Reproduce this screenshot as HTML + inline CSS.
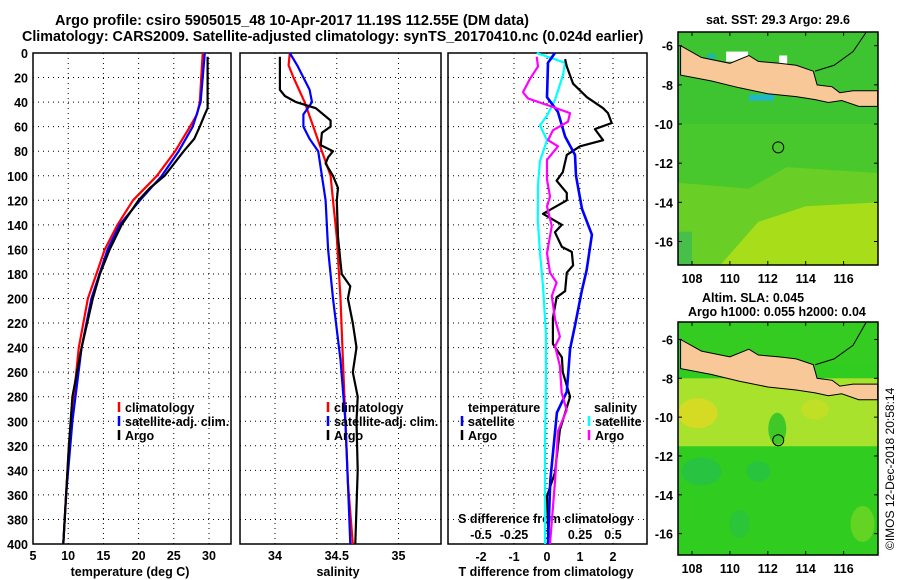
<!DOCTYPE html>
<html><head><meta charset="utf-8">
<style>
body{margin:0;background:#fff;}
svg{display:block;font-family:"Liberation Sans",Arial,sans-serif;font-weight:bold;}
</style></head>
<body>
<svg id="chart" width="900" height="580" viewBox="0 0 900 580" xmlns="http://www.w3.org/2000/svg">
<text x="55" y="25" font-size="14.5">Argo profile: csiro 5905015_48 10-Apr-2017 11.19S 112.55E (DM data)</text>
<text x="22" y="41" font-size="14.3">Climatology: CARS2009. Satellite-adjusted climatology: synTS_20170410.nc (0.024d earlier)</text>
<g id="p1"></g>
<g id="p2"></g>
<g id="p3"></g>
<g id="m1"></g>
<g id="m2"></g>
<text x="778" y="24" font-size="12.5" text-anchor="middle">sat. SST: 29.3 Argo: 29.6</text>
<text x="702" y="302" font-size="12.5">Altim. SLA: 0.045</text>
<text x="688" y="316" font-size="12.5">Argo h1000: 0.055 h2000: 0.04</text>
<text font-size="12" font-weight="normal" transform="translate(894,550) rotate(-90)">©IMOS 12-Dec-2018 20:58:14</text>
</svg>
<script>
// ---- data ----
const depthTicks=[0,20,40,60,80,100,120,140,160,180,200,220,240,260,280,300,320,340,360,380,400];
const tTicks=[5,10,15,20,25,30];
const sTicks=[34,34.5,35];
const dTTicks=[-2,-1,0,1,2];
const dSTicks=[-0.5,-0.25,0,0.25,0.5];
const dSTickLabels=['-0.5','-0.25','0','0.25','0.5'];
// temperature
const climTDepth=[0,40,50,60,80,100,120,140,160,180,200,240,280,320,360,400];
const climT=[29.1,28.7,28.3,27.3,25.2,22.6,19.2,17.0,15.2,14.0,12.8,11.5,10.8,10.1,9.7,9.3];
const satTDepth=[0,40,60,80,100,120,140,160,200,240,300,360,400];
const satT=[29.4,28.8,27.7,25.7,23.3,20.2,17.3,15.6,13.3,11.9,10.6,9.7,9.3];
const argoTDepth=[3,45,50,60,70,80,100,110,120,140,160,180,200,240,280,320,400];
const argoT=[29.8,29.8,29.4,28.7,27.9,26.4,23.7,21.6,20.0,17.6,15.9,14.5,13.5,11.9,10.6,10.1,9.3];
// salinity
const climSDepth=[0,10,20,40,60,80,100,120,150,200,250,300,350,400];
const climS=[34.12,34.11,34.15,34.24,34.31,34.38,34.45,34.47,34.50,34.53,34.55,34.57,34.59,34.63];
const satSDepth=[0,10,30,40,50,60,70,80,100,120,160,200,250,300,350,400];
const satS=[34.12,34.18,34.28,34.30,34.23,34.23,34.28,34.35,34.38,34.41,34.43,34.47,34.53,34.57,34.59,34.61];
const argoSDepth=[3,30,35,40,45,55,60,65,75,80,85,90,100,110,120,150,180,190,200,220,240,260,280,300,340,400];
const argoS=[34.04,34.04,34.08,34.17,34.33,34.45,34.45,34.38,34.37,34.47,34.43,34.41,34.47,34.51,34.50,34.51,34.54,34.61,34.59,34.63,34.66,34.63,34.67,34.66,34.67,34.65];
// differences
const dTsatDepth=[0,8,36,48,68,83,100,127,148,177,193,222,241,276,293,348,400];
const dTsat=[0.24,0.03,0,0.33,0.55,0.85,0.88,1.06,1.36,1.2,1.06,0.85,0.7,0.6,0.3,0.1,0.03];
const dTargoDepth=[5,11,25,36,45,49,57,62,71,76,83,97,104,114,120,131,140,146,158,162,173,179,194,199,216,237,248,260,280,307,342,361,400];
const dTargo=[0.55,0.6,0.79,1.21,1.7,1.85,1.96,1.45,1.7,1.0,0.6,0.48,0.29,0.6,0.6,-0.12,0.45,0.24,0.45,0.75,0.79,0.6,0.55,0.29,0.18,0.18,0.45,0.48,0.7,0.39,0.24,0.0,0.05];
const dSsatDepth=[0,8,18,38,51,59,71,88,107,136,163,190,228,266,321,400];
const dSsat=[-0.078,0.136,0.121,0.061,0,-0.053,0,-0.053,-0.068,-0.07,-0.053,-0.03,-0.008,-0.008,-0.015,-0.015];
const dSargoDepth=[3,11,21,32,37,44,49,56,63,71,76,87,103,117,125,141,163,179,187,198,217,231,239,255,277,291,308,348,400];
const dSargo=[-0.078,-0.068,-0.129,-0.182,-0.144,0.045,0.174,0.159,0.045,0.008,0.083,0,0,0.023,0,0.036,0,0.023,0.073,0.036,0.061,0.098,0.061,0.098,0.111,0.149,0.083,0.061,0.023];

const NS='http://www.w3.org/2000/svg';
function mk(parent,tag,attrs){const e=document.createElementNS(NS,tag);for(const k in attrs)e.setAttribute(k,attrs[k]);parent.appendChild(e);return e;}
const TOP=53,BOT=544;
const yD=d=>TOP+(d/400)*(BOT-TOP);

function frame(g,x0,x1,xs){
  for(const d of depthTicks){ if(d===0||d===400)continue;
    const l=mk(g,'line',{x1:x0,x2:x1,y1:yD(d),y2:yD(d),stroke:'#000','stroke-width':1,'stroke-dasharray':'1,4'});
     }
  for(const x of xs){
    const l=mk(g,'line',{x1:x,x2:x,y1:TOP,y2:BOT,stroke:'#000','stroke-width':1,'stroke-dasharray':'1,4'});
     }
  const r=mk(g,'rect',{x:x0,y:TOP,width:x1-x0,height:BOT-TOP,fill:'none',stroke:'#000','stroke-width':1.5});
   
}
function line(g,xs,ds,fx,color,name,w){
  const pts=xs.map((v,i)=>fx(v).toFixed(1)+','+yD(ds[i]).toFixed(1)).join(' ');
  const p=mk(g,'polyline',{points:pts,fill:'none',stroke:color,'stroke-width':w||2.2,'stroke-linejoin':'round'});
   
}
function txt(g,x,y,s,opts,name){const t=mk(g,'text',Object.assign({x:x,y:y,'font-size':12.5},opts||{}));t.textContent=s;
   return t;}
function legend(g,x,y,color,label,name){
  const l=mk(g,'line',{x1:x,x2:x,y1:y-10,y2:y,stroke:color,'stroke-width':2.5});
   
  txt(g,x+6,y,label,{},name);
}

// panel 1
const p1=document.getElementById('p1');
const fT=t=>33+(t-5)*7.04;
frame(p1,33,231,tTicks.slice(1).map(fT));
for(const d of depthTicks) txt(p1,28,yD(d)+5,String(d),{'text-anchor':'end'},'y-tick-label');
for(const t of tTicks) txt(p1,fT(t),560,String(t),{'text-anchor':'middle'},'x-tick-label');
txt(p1,130,576,'temperature (deg C)',{'text-anchor':'middle'},'x-axis-title');
line(p1,climT,climTDepth,fT,'#f00','clim-temp-line');
line(p1,satT,satTDepth,fT,'#00f','sat-temp-line');
line(p1,argoT,argoTDepth,fT,'#000','argo-temp-line');
legend(p1,119,412,'#f00','climatology','legend-climatology');
legend(p1,119,426,'#00f','satellite-adj. clim.','legend-satellite');
legend(p1,119,440,'#000','Argo','legend-argo');

// panel 2
const p2=document.getElementById('p2');
const fS=s=>275+(s-34)*123.5;
frame(p2,240,441,sTicks.map(fS));
sTicks.forEach(s=>txt(p2,fS(s),560,String(s),{'text-anchor':'middle'},'x-tick-label'));
txt(p2,338,576,'salinity',{'text-anchor':'middle'},'x-axis-title');
line(p2,climS,climSDepth,fS,'#f00','clim-sal-line');
line(p2,satS,satSDepth,fS,'#00f','sat-sal-line');
line(p2,argoS,argoSDepth,fS,'#000','argo-sal-line');
legend(p2,328,412,'#f00','climatology','legend-climatology');
legend(p2,328,426,'#00f','satellite-adj. clim.','legend-satellite');
legend(p2,328,440,'#000','Argo','legend-argo');

// panel 3
const p3=document.getElementById('p3');
const fdT=v=>547+v*33;
const fdS=v=>547+v*132;
frame(p3,448,647,dTTicks.map(fdT));
dTTicks.forEach(v=>txt(p3,fdT(v),561,String(v),{'text-anchor':'middle'},'t-diff-tick-label'));
dSTicks.forEach((v,i)=>txt(p3,fdS(v),539,dSTickLabels[i],{'text-anchor':'middle'},'s-diff-tick-label'));
txt(p3,546,523,'S difference from climatology',{'text-anchor':'middle'},'s-diff-axis-title');
txt(p3,546,576,'T difference from climatology',{'text-anchor':'middle'},'t-diff-axis-title');
line(p3,dSsat,dSsatDepth,fdS,'#0ff','sat-sal-diff-line');
line(p3,dTargo,dTargoDepth,fdT,'#000','argo-temp-diff-line');
line(p3,dTsat,dTsatDepth,fdT,'#00f','sat-temp-diff-line',2.6);
line(p3,dSargo,dSargoDepth,fdS,'#f0f','argo-sal-diff-line');
txt(p3,468,412,'temperature',{},'legend-temperature-header');
legend(p3,462,426,'#00f','satellite','legend-temp-satellite');
legend(p3,462,440,'#000','Argo','legend-temp-argo');
txt(p3,594,412,'salinity',{},'legend-salinity-header');
legend(p3,589,426,'#0ff','satellite','legend-sal-satellite');
legend(p3,589,440,'#f0f','Argo','legend-sal-argo');

// maps
const lonTicks=[108,110,112,114,116];
const latTicks=[-6,-8,-10,-12,-14,-16];
const argoLon=112.55, argoLat=-11.19;
function map(g,top,bot,lat0,lat1,kind){
  const L=678,R=878;
  const fx=lon=>692+(lon-108)*18.95;
  const fy=lat=>top+(lat0-lat)*(bot-top)/(lat0-lat1);
  const id='clip'+kind;
  const cp=mk(g,'clipPath',{id:id}); mk(cp,'rect',{x:L,y:top,width:R-L,height:bot-top});
  const c=mk(g,'g',{'clip-path':'url(#'+id+')'});
  if(kind==='sst'){
    const bg=mk(c,'rect',{x:L,y:top,width:R-L,height:bot-top,fill:'#48c82c'});
     
    mk(c,'polygon',{points:`${L},${fy(-13)} ${fx(111)},${fy(-13.3)} ${fx(113)},${fy(-12.2)} ${R},${fy(-12.5)} ${R},${bot} ${L},${bot}`,fill:'#78d024',opacity:0.7});
    mk(c,'polygon',{points:`${fx(109.5)},${bot} ${fx(111.5)},${fy(-15)} ${fx(114)},${fy(-14.2)} ${R},${fy(-14)} ${R},${bot}`,fill:'#b4e018',opacity:0.85});
    mk(c,'rect',{x:L,y:top,width:R-L,height:fy(-10)-top,fill:'#34c034',opacity:0.5});
    mk(c,'rect',{x:L,y:fy(-15.5),width:14,height:bot-fy(-15.5),fill:'#30b860',opacity:0.6});
    mk(c,'rect',{x:fx(109.8),y:fy(-6.3),width:22,height:10,fill:'#fff'});
    mk(c,'rect',{x:fx(108.8),y:fy(-6.4),width:8,height:6,fill:'#20b8a0'});
    mk(c,'rect',{x:fx(112.6),y:fy(-6.5),width:8,height:10,fill:'#fff'});
    mk(c,'rect',{x:fx(111),y:fy(-8.5),width:25,height:6,fill:'#20b8c8'});
  } else {
    const bg=mk(c,'rect',{x:L,y:top,width:R-L,height:bot-top,fill:'#30cc20'});
     
    mk(c,'rect',{x:L,y:fy(-8),width:R-L,height:fy(-11.5)-fy(-8),fill:'#a8e22c'});
    mk(c,'ellipse',{cx:fx(108.3),cy:fy(-9.8),rx:20,ry:15,fill:'#e8d820',opacity:0.7});
    mk(c,'ellipse',{cx:fx(114.5),cy:fy(-9.6),rx:14,ry:10,fill:'#d8dc20',opacity:0.5});
    mk(c,'ellipse',{cx:fx(112.5),cy:fy(-10.6),rx:9,ry:16,fill:'#40c828'});
    mk(c,'ellipse',{cx:fx(108.5),cy:fy(-12.8),rx:20,ry:14,fill:'#20b868',opacity:0.45});
    mk(c,'ellipse',{cx:fx(111.5),cy:fy(-12.8),rx:12,ry:10,fill:'#20b868',opacity:0.4});
    mk(c,'ellipse',{cx:fx(110.5),cy:fy(-15.5),rx:10,ry:14,fill:'#20b868',opacity:0.35});
    mk(c,'ellipse',{cx:fx(117),cy:fy(-15.5),rx:12,ry:18,fill:'#98dc28',opacity:0.5});
    mk(c,'rect',{x:L,y:top,width:R-L,height:fy(-7.3)-top,fill:'#34cc20'});
  }
  const land=[[107.4,-6.0],[108.5,-6.6],[110,-6.9],[111,-6.5],[111.5,-6.8],[112.6,-6.9],[113.5,-7.0],[114.4,-7.3],[114.6,-8.0],[115.4,-8.1],[115.8,-8.4],[116.5,-8.3],[117.8,-8.3],[117.8,-9.1],[116.8,-9.1],[115.9,-8.8],[115.2,-8.9],[114.5,-8.75],[113.5,-8.6],[112,-8.45],[110.5,-8.15],[109,-7.8],[107.4,-7.5]];
  const poly=mk(c,'polygon',{points:land.map(p=>fx(p[0]).toFixed(1)+','+fy(p[1]).toFixed(1)).join(' '),fill:'#f8c898',stroke:'#000','stroke-width':1});
   
  mk(c,'polyline',{points:`${fx(114.5)},${fy(-7.3)} ${fx(115.5)},${fy(-7)} ${fx(116.5)},${fy(-6.3)} ${fx(117.2)},${top}`,fill:'none',stroke:'#000','stroke-width':1});
  const fr=mk(g,'rect',{x:L,y:top,width:R-L,height:bot-top,fill:'none',stroke:'#000','stroke-width':1.5});
   
  const circ=mk(g,'circle',{cx:fx(argoLon),cy:fy(argoLat),r:5.5,fill:'none',stroke:'#000','stroke-width':1});
   
  lonTicks.forEach(v=>{mk(g,'line',{x1:fx(v),x2:fx(v),y1:top,y2:top+4,stroke:'#000'});mk(g,'line',{x1:fx(v),x2:fx(v),y1:bot,y2:bot-4,stroke:'#000'});
    txt(g,fx(v),bot+18,String(v),{'text-anchor':'middle'},'lon-tick-label');});
  latTicks.forEach(v=>{mk(g,'line',{x1:L,x2:L+4,y1:fy(v),y2:fy(v),stroke:'#000'});mk(g,'line',{x1:R,x2:R-4,y1:fy(v),y2:fy(v),stroke:'#000'});
    txt(g,673,fy(v)+5,String(v),{'text-anchor':'end'},'lat-tick-label');});
}
map(document.getElementById('m1'),32,265,-5.3,-17.2,'sst');
map(document.getElementById('m2'),322,555,-5.1,-17.1,'sla');
</script>
</body></html>
